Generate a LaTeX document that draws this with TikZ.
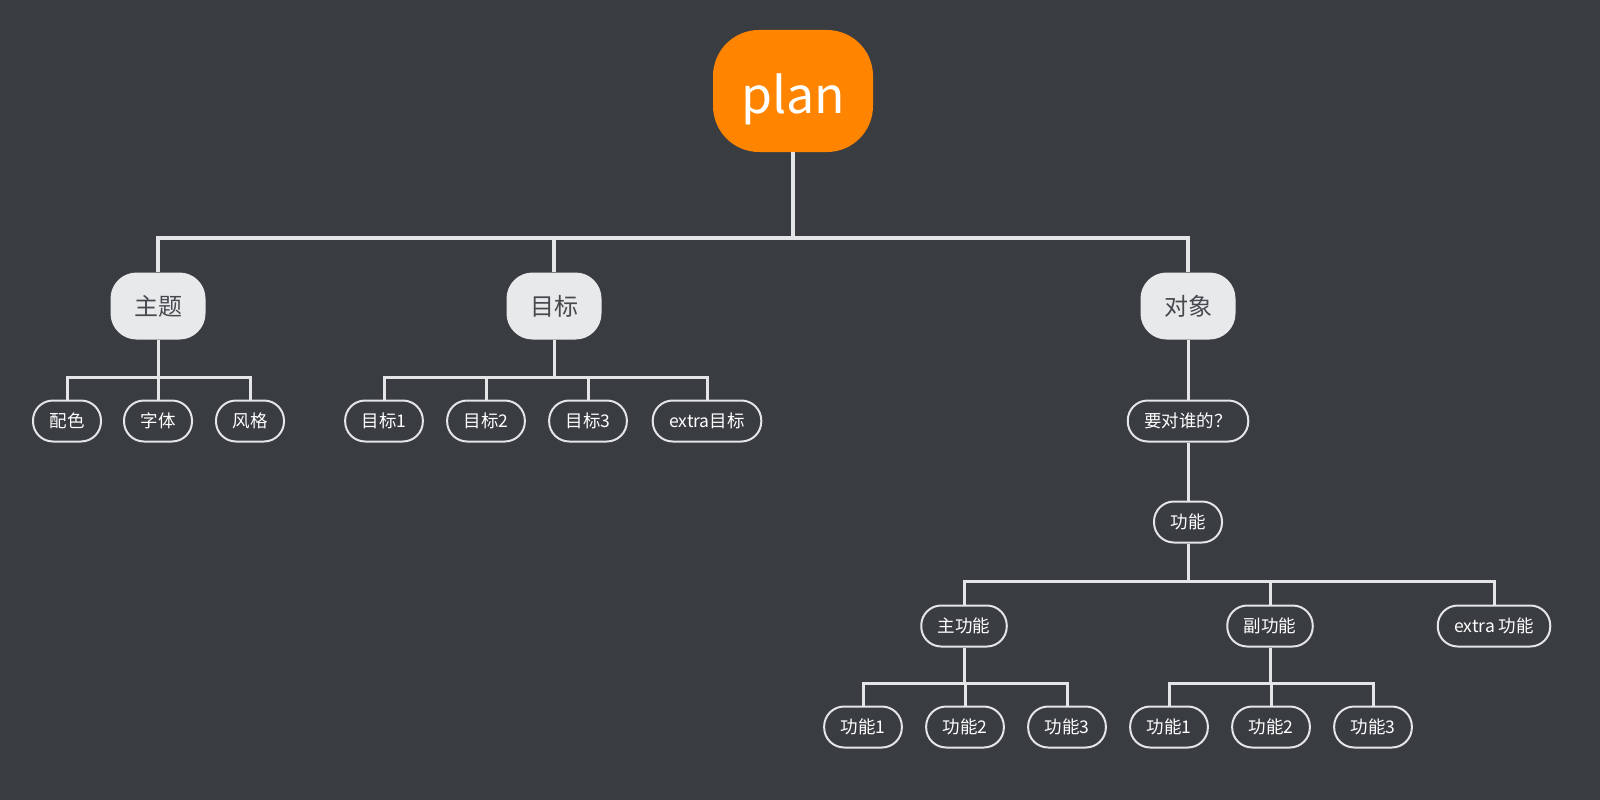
\documentclass[tikz,border=0pt]{standalone}
\usepackage{fontspec}
\newfontfamily\cjk{Noto Sans CJK SC}
\definecolor{bgdark}{HTML}{393C41}
\definecolor{planorange}{HTML}{FF8500}
\definecolor{topicgray}{HTML}{E8E9EB}
\definecolor{topictext}{HTML}{46494E}
\definecolor{linegray}{HTML}{E4E5E7}
\begin{document}
\begin{tikzpicture}[x=1pt,y=-1pt,
    root/.style={fill=planorange,text=white,rounded corners=46pt,minimum width=160pt,minimum height=122pt,
      text height=44pt,text depth=0pt,font=\cjk\fontsize{50}{60}\selectfont},
    topic/.style={fill=topicgray,text=topictext,rounded corners=26pt,minimum width=95pt,minimum height=67pt,
      font=\cjk\fontsize{24}{28}\selectfont},
    leaf/.style={draw=linegray,line width=2pt,text=white,rounded corners=20pt,minimum height=41pt,inner xsep=16.5pt,
      font=\cjk\fontsize{17.5}{20}\selectfont},
    link/.style={draw=linegray,line width=3.5pt},
    twig/.style={draw=linegray,line width=3pt}]
    %% background
    \fill[bgdark] (0,0) rectangle (1600,800);
    \useasboundingbox (0,0) rectangle (1600,800);
    %% root and topics
    \node[root] (plan) at (793,91) {plan};
    \node[topic] (zt) at (158,306) {主题};
    \node[topic] (mb) at (554,306) {目标};
    \node[topic] (dx) at (1188,306) {对象};
    \foreach \t in {zt,mb,dx}
        \draw[link] (plan) -- (plan |- 0,238) -| (\t);
    %% 主题
    \node[leaf] (pc) at (67,421) {配色};
    \node[leaf] (zi) at (158,421) {字体};
    \node[leaf] (fg) at (250,421) {风格};
    \foreach \c in {pc,zi,fg}
        \draw[twig] (zt) -- (zt |- 0,377) -| (\c);
    %% 目标
    \node[leaf] (mb1) at (384,421) {目标1};
    \node[leaf] (mb2) at (486,421) {目标2};
    \node[leaf] (mb3) at (588,421) {目标3};
    \node[leaf] (mbx) at (707,421) {extra目标};
    \foreach \c in {mb1,mb2,mb3,mbx}
        \draw[twig] (mb) -- (mb |- 0,377) -| (\c);
    %% 对象
    \node[leaf] (who) at (1188,421) {要对谁的？};
    \node[leaf] (gn) at (1188,522) {功能};
    \draw[twig] (dx) -- (who);
    \draw[twig] (who) -- (gn);
    \node[leaf] (zg) at (964,626) {主功能};
    \node[leaf] (fug) at (1270,626) {副功能};
    \node[leaf] (gnx) at (1494,626) {extra 功能};
    \foreach \c in {zg,fug,gnx}
        \draw[twig] (gn) -- (gn |- 0,581) -| (\c);
    \foreach \x [count=\i] in {863,965,1067}
        \node[leaf] (zg\i) at (\x,727) {功能\i};
    \foreach \x [count=\i] in {1169,1271,1373}
        \node[leaf] (fug\i) at (\x,727) {功能\i};
    \foreach \i in {1,2,3} {
        \draw[twig] (zg) -- (zg |- 0,683) -| (zg\i);
        \draw[twig] (fug) -- (fug |- 0,683) -| (fug\i);
    }
\end{tikzpicture}
\end{document}
